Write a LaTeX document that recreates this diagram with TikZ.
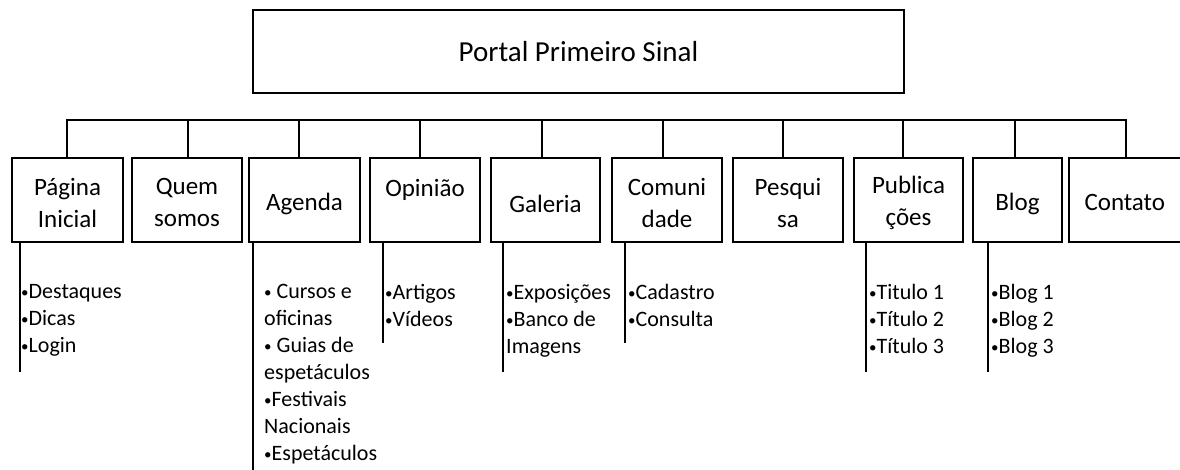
\documentclass[tikz,border=0pt]{standalone}
\usepackage{fontspec}
\setmainfont{Carlito}
\newcommand\bu{{\fontsize{15}{15}\selectfont\raisebox{1pt}{•}}}
\newcommand\lo[2][4pt]{\raisebox{-#1}[\height][\depth]{#2}}
\begin{document}
\begin{tikzpicture}[x=1pt,y=-1pt,
  box/.style={draw, line width=2.8pt, inner sep=0pt, minimum height=84pt, align=center, font=\fontsize{25}{31}\selectfont},
  titlebox/.style={draw, line width=2.8pt, inner sep=0pt, minimum width=651pt, minimum height=83pt, font=\fontsize{29}{35}\selectfont},
  conn/.style={line width=2.4pt},
  thin/.style={line width=1.8pt},
  sub/.style={inner sep=0pt, anchor=north west, align=left, font=\fontsize{22}{27}\selectfont}]
\useasboundingbox (0,0) rectangle (1180,470);
\node[titlebox] (top) at (578.5,51.5) {Portal Primeiro Sinal};

\node[box, minimum width=111pt] (p1) at (67.5,200) {\lo[2pt]{Página}\\\lo[3pt]{Inicial}};
\node[box, minimum width=110pt] (p2) at (187,200) {\lo[2pt]{Quem}\\\lo[3pt]{somos}};
\node[box, minimum width=111pt] (p3) at (304.5,200) {\lo{Agenda}};
\node[box, minimum width=110pt] (p4) at (425,200) {\lo[3pt]{Opinião}\\\phantom{I}};
\node[box, minimum width=109pt] (p5) at (545.5,200) {\lo{Galeria}};
\node[box, minimum width=110pt] (p6) at (667,200) {\lo[2pt]{Comuni}\\\lo[3pt]{dade}};
\node[box, minimum width=110pt] (p7) at (788,200) {\lo[2pt]{Pesqui}\\\lo[3pt]{sa}};
\node[box, minimum width=109pt] (p8) at (908.5,200) {\lo[2pt]{Publica}\\\lo[3pt]{ções}};
\node[box, minimum width=89pt] (p9) at (1017.5,200) {\lo{Blog}};
\node[box, minimum width=120pt, text width=113pt, align=left] (p10) at (1129,200) {\hspace*{12pt}\lo[2pt]{Contato}};

\coordinate (b1) at (67,120);
\coordinate (b2) at (188,120);
\coordinate (b3) at (299,120);
\coordinate (b4) at (420,120);
\coordinate (b5) at (542,120);
\coordinate (b6) at (663,120);
\coordinate (b7) at (783,120);
\coordinate (b8) at (903,120);
\coordinate (b9) at (1015,120);
\coordinate (b10) at (1126,120);
\draw[conn] ([xshift=-1.2pt]b1) -- ([xshift=1.2pt]b10);
\foreach \i in {1,...,10}{\draw[conn] (b\i) -- (b\i |- p\i.north);}

\coordinate (e1) at (20,372);
\coordinate (e3) at (253,472);
\coordinate (e4) at (383,343);
\coordinate (e5) at (503,372);
\coordinate (e6) at (625,343);
\coordinate (e8) at (866,372);
\coordinate (e9) at (988,372);
\draw[conn] (e1 |- p1.south) -- (e1);
\draw[thin] (e3 |- p3.south) -- (e3);
\draw[conn] (e4 |- p4.south) -- (e4);
\draw[thin] (e5 |- p5.south) -- (e5);
\draw[conn] (e6 |- p6.south) -- (e6);
\draw[conn] (e8 |- p8.south) -- (e8);
\draw[conn] (e9 |- p9.south) -- (e9);

\node[sub] (s1) at (21,284) {\bu Destaques\\\bu Dicas\\\bu Login};
\node[sub] (s3) at (264,284) {\bu{} Cursos e\\oficinas\\\bu{} Guias de\\espetáculos\\\bu Festivais\\Nacionais\\\bu Espetáculos};
\node[sub] (s4) at (385,284) {\bu Artigos\\\bu Vídeos};
\node[sub] (s5) at (506,284) {\bu Exposições\\\bu Banco de\\Imagens};
\node[sub] (s6) at (628,284) {\bu Cadastro\\\bu Consulta};
\node[sub] (s8) at (869,284) {\bu Titulo 1\\\bu Título 2\\\bu Título 3};
\node[sub] (s9) at (991,284) {\bu Blog 1\\\bu Blog 2\\\bu Blog 3};
\end{tikzpicture}
\end{document}
